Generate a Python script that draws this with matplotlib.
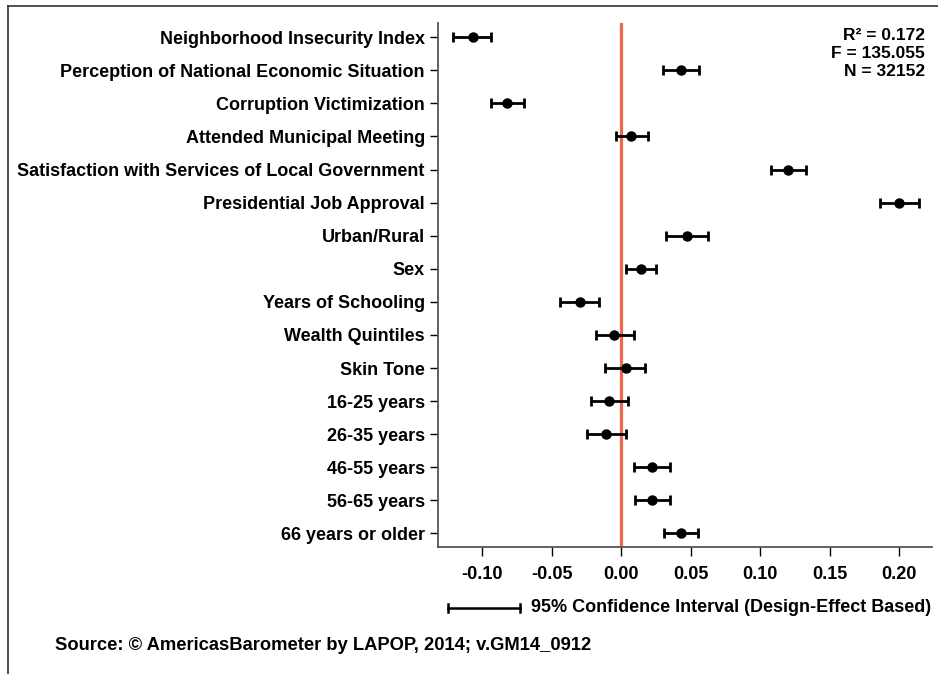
import matplotlib
matplotlib.use('Agg')
import matplotlib.pyplot as plt
from matplotlib.lines import Line2D
import numpy as np

plt.rcParams.update({
    'font.family': ['Liberation Sans', 'DejaVu Sans'],
    'font.weight': 'bold',
})

# coefficients and 95% CI
labels = [
    'Neighborhood Insecurity Index',
    'Perception of National Economic Situation',
    'Corruption Victimization',
    'Attended Municipal Meeting',
    'Satisfaction with Services of Local Government',
    'Presidential Job Approval',
    'Urban/Rural',
    'Sex',
    'Years of Schooling',
    'Wealth Quintiles',
    'Skin Tone',
    '16-25 years',
    '26-35 years',
    '46-55 years',
    '56-65 years',
    '66 years or older',
]
coef = [-0.107, 0.043, -0.082, 0.007, 0.120, 0.200, 0.047, 0.014, -0.030,
        -0.005, 0.003, -0.009, -0.011, 0.022, 0.022, 0.043]
ci_low = [-0.121, 0.030, -0.094, -0.004, 0.108, 0.186, 0.032, 0.003, -0.044,
          -0.018, -0.012, -0.022, -0.025, 0.009, 0.010, 0.031]
ci_high = [-0.094, 0.056, -0.070, 0.019, 0.133, 0.214, 0.062, 0.025, -0.016,
           0.009, 0.017, 0.005, 0.003, 0.035, 0.035, 0.055]
xticks = [-0.10, -0.05, 0.00, 0.05, 0.10, 0.15, 0.20]
stats = ['R\u00b2 = 0.172', 'F = 135.055', 'N = 32152']

W, H = 938, 674
fig = plt.figure(figsize=(W / 100, H / 100), dpi=100)


def fx(px):
    return px / W


def fy(py):
    return 1 - py / H


ax = fig.add_axes([fx(438), fy(547), fx(932) - fx(438), fy(23) - fy(547)])

y = np.arange(len(labels))
coef_a = np.array(coef)
err = [coef_a - np.array(ci_low), np.array(ci_high) - coef_a]

ax.axvline(0, color='#EA6A4B', lw=2.3, zorder=1)
ax.errorbar(coef_a, y, xerr=err, fmt='o', color='black', ms=6.5,
            elinewidth=2, capsize=3.5, capthick=2, zorder=3)

ax.set_xlim(-0.1319, 0.2235)
ax.set_ylim(len(labels) - 1 + 0.41, -0.43)
ax.set_yticks(y)
ax.set_yticklabels(labels, fontsize=13, fontweight='bold')
ax.set_xticks(xticks)
ax.set_xticklabels([f'{v:.2f}' for v in xticks], fontsize=13, fontweight='bold')
ax.tick_params(axis='y', length=5.5, width=1, pad=4, color='black')
ax.tick_params(axis='x', length=6.5, width=1, pad=7, color='black')

for s in ['top', 'right']:
    ax.spines[s].set_visible(False)
for s in ['left', 'bottom']:
    ax.spines[s].set_color('#555555')
    ax.spines[s].set_linewidth(1.3)

for i, t in enumerate(stats):
    fig.text(fx(925), fy(36 + i * 17.8), t, ha='right', va='center',
             fontsize=12.5, fontweight='bold')

# confidence interval legend
ly = fy(608)
fig.add_artist(Line2D([fx(448), fx(520)], [ly, ly], color='black', lw=1.8))
for xx in (448, 520):
    fig.add_artist(Line2D([fx(xx), fx(xx)], [ly - 4 / H, ly + 4 / H],
                          color='black', lw=1.8))
fig.text(fx(531), ly, '95% Confidence Interval (Design-Effect Based)',
         ha='left', va='center', fontsize=13, fontweight='bold')

fig.text(fx(55), fy(645), 'Source: \u00a9 AmericasBarometer by LAPOP, 2014; v.GM14_0912',
         ha='left', va='center', fontsize=13.2, fontweight='bold')

# outer frame (left and top edges)
fig.add_artist(Line2D([fx(8), fx(8)], [fy(6), 0], color='#333333', lw=1.2))
fig.add_artist(Line2D([fx(8), 1], [fy(6), fy(6)], color='#333333', lw=1.2))

fig.savefig('out.png', dpi=100)
